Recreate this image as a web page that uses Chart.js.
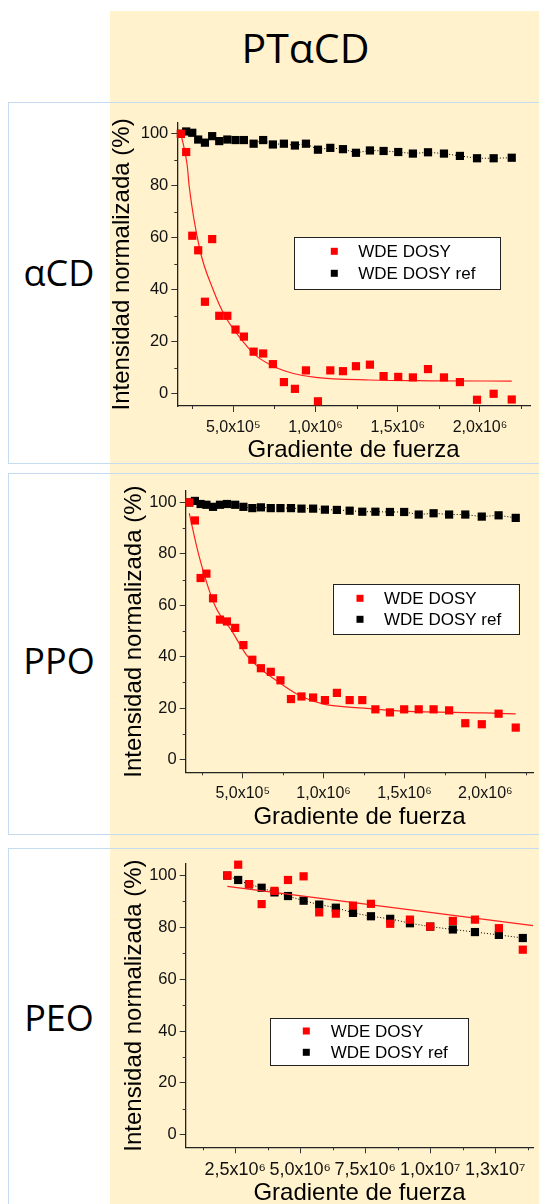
<!DOCTYPE html>
<html>
<head>
<meta charset="utf-8">
<script src="https://cdn.jsdelivr.net/npm/chart.js"></script>
<style>
  body { margin: 0; width: 539px; height: 1204px; position: relative; overflow: hidden; background: #fff; }
  .beige { position: absolute; left: 110px; top: 11px; width: 429px; height: 1193px; background: #fff2cc; }
  .panel { position: absolute; left: 8px; width: 540px; border: 1.5px solid #c5dbf0; box-sizing: border-box; }
  .big { position: absolute; font-family: "Open Sans", sans-serif; color: #000; line-height: 1; white-space: nowrap; text-align: center; }
  canvas { position: absolute; left: 110px; }
</style>
</head>
<body>
<div class="beige"></div>
<div class="panel" style="top:102px;height:362px"></div>
<div class="panel" style="top:473px;height:362px"></div>
<div class="panel" style="top:848px;height:370px"></div>

<div class="big" style="left:200px;width:211px;top:27px;font-size:41px">PTαCD</div>
<div class="big" style="left:0;width:118px;top:255px;font-size:36px">αCD</div>
<div class="big" style="left:0;width:118px;top:643px;font-size:36px">PPO</div>
<div class="big" style="left:0;width:118px;top:1000px;font-size:36px">PEO</div>

<canvas id="c1" width="429" height="355" style="top:110px"></canvas>
<canvas id="c2" width="429" height="354" style="top:478px"></canvas>
<canvas id="c3" width="429" height="357" style="top:851px"></canvas>

<script>
// αCD panel
const acdGrad = [182e3, 214e3, 251e3, 287e3, 328e3, 372e3, 415e3, 464e3, 514e3, 565e3,
  624e3, 682e3, 741e3, 808e3, 875e3, 942e3, 1015e3, 1090e3, 1167e3, 1246e3,
  1331e3, 1414e3, 1503e3, 1592e3, 1684e3, 1781e3, 1878e3, 1982e3, 2083e3, 2193e3];
const acdWde = [100, 93, 60.8, 55.2, 35.4, 59.5, 30, 30, 24.7, 22,
  16.2, 15.5, 11.4, 4.5, 1.9, 9, -2.9, 9, 8.7, 10.6,
  11.2, 6.8, 6.5, 6.3, 9.5, 6.3, 4.5, -2.3, 0, -2.2];
const acdRef = [100, 100.9, 100.4, 97.8, 96.6, 99.1, 97.2, 97.8, 97.6, 97.6,
  96.2, 97.6, 95.9, 96.2, 95.5, 96.2, 93.9, 94.6, 94.1, 92.7,
  93.6, 93.4, 93.0, 92.4, 92.9, 92.4, 91.5, 90.6, 90.6, 90.8];
const acdFitX = [182e3, 220e3, 232e3, 297e3, 378e3, 449e3, 561e3, 642e3, 763e3, 865e3, 1000e3, 1330e3, 1700e3, 2193e3];
const acdFitY = [100, 88, 80, 55.5, 40, 30, 20, 14.5, 10, 7.8, 6.3, 5.3, 5.0, 4.9];

// PPO panel
const ppoGrad = [169e3, 204e3, 239e3, 275e3, 316e3, 359e3, 402e3, 453e3, 504e3, 559e3,
  612e3, 673e3, 733e3, 798e3, 863e3, 935e3, 1008e3, 1082e3, 1161e3, 1239e3,
  1320e3, 1410e3, 1498e3, 1588e3, 1680e3, 1776e3, 1876e3, 1978e3, 2082e3, 2188e3];
const ppoWde = [100, 93, 70.6, 72.3, 62.7, 54.4, 53.7, 51.2, 44.5, 38.8,
  35.5, 34.1, 30.8, 23.5, 24.5, 24.1, 23.1, 25.9, 23.1, 23.1,
  19.5, 18.3, 19.5, 19.5, 19.5, 19.1, 14.1, 13.7, 17.8, 12.4];
const ppoRef = [100, 100.6, 99.4, 99.1, 98.3, 99.1, 99.4, 99.1, 98.3, 97.8,
  98.1, 97.8, 97.8, 97.8, 97.6, 97.6, 97.2, 97.1, 96.8, 96.4,
  96.4, 96.3, 96.3, 95.3, 95.8, 95.3, 95.3, 94.5, 95, 94];
const ppoFitX = [169e3, 226e3, 327e3, 429e3, 531e3, 724e3, 847e3, 1000e3, 1250e3, 1500e3, 2000e3, 2188e3];
const ppoFitY = [95.8, 80, 60, 50.3, 40, 30, 25, 21.5, 20, 18.8, 18.1, 17.7];

// PEO panel
const peoGrad = [2.195e6, 2.614e6, 3.03e6, 3.516e6, 4.01e6, 4.53e6, 5.13e6, 5.73e6, 6.37e6,
  7.03e6, 7.72e6, 8.46e6, 9.22e6, 10.0e6, 10.87e6, 11.72e6, 12.64e6, 13.56e6];
const peoWde = [100, 104.2, 96.7, 89, 94.1, 98.3, 99.7, 85.8, 85.3,
  88.4, 89.1, 81.4, 83, 80.3, 82.5, 83, 79.7, 71.4];
const peoRef = [100, 98.3, 96.6, 95.3, 93.5, 92.1, 90.3, 88.8, 87.6,
  85.6, 84.3, 83.3, 81.6, 80.3, 79.2, 78.2, 77.1, 75.9];
const peoFitX = [2.195e6, 13.96e6];
const peoFitY = [95.8, 80.7];

// axis ticks
const gradTickVals = [5e5, 1e6, 1.5e6, 2e6];
const gradTicks = ['5,0x10\u2075', '1,0x10\u2076', '1,5x10\u2076', '2,0x10\u2076'];
const gradMinor = [2.5e5, 7.5e5, 1.25e6, 1.75e6, 2.25e6];
const peoTickVals = [2.5e6, 5e6, 7.5e6, 1e7, 1.25e7];
const peoTicks = ['2,5x10\u2076', '5,0x10\u2076', '7,5x10\u2076', '1,0x10\u2077', '1,3x10\u2077'];
const peoMinor = [1.25e6, 3.75e6, 6.25e6, 8.75e6, 11.25e6, 13.75e6];
const yTickVals = [0, 20, 40, 60, 80, 100];
const yMinor = [10, 30, 50, 70, 90];

Chart.defaults.font.family = '"Liberation Sans", Arial, sans-serif';
Chart.defaults.color = '#111';

const pts = (xs, ys) => xs.map((x, i) => ({ x: x, y: ys[i] }));

const minorTicks = {
  id: 'minorTicks',
  afterDraw(chart, args, o) {
    const { ctx, scales: { x, y } } = chart;
    ctx.save();
    ctx.strokeStyle = '#333';
    ctx.lineWidth = 1;
    ctx.beginPath();
    o.x.forEach(v => {
      const px = Math.round(x.getPixelForValue(v)) + 0.5;
      ctx.moveTo(px, x.top);
      ctx.lineTo(px, x.top + 3);
    });
    o.y.forEach(v => {
      const py = Math.round(y.getPixelForValue(v)) + 0.5;
      ctx.moveTo(y.right, py);
      ctx.lineTo(y.right - 3, py);
    });
    ctx.stroke();
    ctx.restore();
  }
};

const boxLegend = {
  id: 'boxLegend',
  afterDraw(chart, args, o) {
    const ctx = chart.ctx;
    ctx.save();
    ctx.fillStyle = '#fff';
    ctx.fillRect(o.x, o.y, o.w, o.h);
    ctx.strokeStyle = '#222';
    ctx.lineWidth = 1;
    ctx.strokeRect(Math.round(o.x) + 0.5, Math.round(o.y) + 0.5, Math.round(o.w), Math.round(o.h));
    ctx.font = '17px "Liberation Sans"';
    ctx.textBaseline = 'middle';
    chart.data.datasets.filter(d => d.inLegend).forEach((d, i) => {
      const yy = o.rows[i];
      ctx.fillStyle = d.backgroundColor;
      ctx.fillRect(o.markX - 3.5, yy - 3.5, 7, 7);
      ctx.fillStyle = '#000';
      ctx.fillText(d.label, o.textX, yy + 1);
    });
    ctx.restore();
  }
};

function makeChart(id, p) {
  return new Chart(document.getElementById(id), {
    type: 'scatter',
    data: {
      datasets: [
        {
          label: 'WDE DOSY', inLegend: true,
          data: pts(p.grad, p.wde),
          pointStyle: 'rect', pointRadius: 5.8, pointHoverRadius: 5.8,
          backgroundColor: '#ff0000', borderColor: '#ff0000', pointBorderWidth: 0,
          showLine: false, clip: false
        },
        {
          label: 'fit',
          data: pts(p.fitX, p.fitY),
          showLine: true, pointRadius: 0, borderColor: '#ff2020', borderWidth: 1.2,
          cubicInterpolationMode: 'monotone', fill: false
        },
        {
          label: 'WDE DOSY ref', inLegend: true,
          data: pts(p.grad, p.ref),
          pointStyle: 'rect', pointRadius: 5.8, pointHoverRadius: 5.8,
          backgroundColor: '#000000', borderColor: '#000000', pointBorderWidth: 0,
          showLine: true, borderWidth: 1, borderDash: [1, 2], clip: false
        }
      ]
    },
    options: {
      responsive: false,
      animation: false,
      devicePixelRatio: 1,
      layout: { padding: { top: p.padTop, right: p.padRight, bottom: 0, left: 0 } },
      plugins: {
        legend: { display: false },
        tooltip: { enabled: false },
        minorTicks: { x: p.minor, y: yMinor },
        boxLegend: p.legend
      },
      scales: {
        x: {
          type: 'linear', min: p.xMin, max: p.xMax,
          afterBuildTicks: s => { s.ticks = p.tickVals.map(v => ({ value: v })); },
          afterFit: s => { s.height = p.xH; },
          border: { display: true, color: '#222', width: 1.3 },
          grid: { drawOnChartArea: false, drawTicks: true, tickLength: 6, tickColor: '#333', tickWidth: 1 },
          ticks: {
            padding: 6, color: '#111',
            maxRotation: 0, autoSkip: false,
            font: { size: p.xFont },
            callback: (v, i) => p.tickLabels[i]
          },
          title: { display: true, text: 'Gradiente de fuerza', color: '#000', padding: 0,
            font: { size: 24, lineHeight: 1.2 } }
        },
        y: {
          min: p.yMin, max: p.yMax,
          afterBuildTicks: s => { s.ticks = yTickVals.map(v => ({ value: v })); },
          afterFit: s => { s.width = p.yW; },
          border: { display: true, color: '#222', width: 1.3 },
          grid: { drawOnChartArea: false, drawTicks: true, tickLength: 6, tickColor: '#333', tickWidth: 1 },
          ticks: { padding: 3, color: '#111', font: { size: 16.5 }, callback: v => String(v) },
          title: { display: true, text: 'Intensidad normalizada (%)', color: '#000',
            padding: { top: p.yTitlePad, bottom: 0 }, font: { size: 24, lineHeight: 1 } }
        }
      }
    },
    plugins: [minorTicks, boxLegend]
  });
}

makeChart('c1', {
  grad: acdGrad, wde: acdWde, ref: acdRef, fitX: acdFitX, fitY: acdFitY,
  xMin: 1.6e5, xMax: 2.304e6, tickVals: gradTickVals, tickLabels: gradTicks, minor: gradMinor, xFont: 16,
  yMin: -4.7, yMax: 104.2, padTop: 12.3, padRight: 9, xH: 59, yW: 67.3, yTitlePad: 0,
  legend: { x: 184.3, y: 127.3, w: 206, h: 51.7, markX: 224.3, textX: 248.3, rows: [141.3, 163.3] }
});

makeChart('c2', {
  grad: ppoGrad, wde: ppoWde, ref: ppoRef, fitX: ppoFitX, fitY: ppoFitY,
  xMin: 1.47e5, xMax: 2.296e6, tickVals: gradTickVals, tickLabels: gradTicks, minor: gradMinor, xFont: 16,
  yMin: -5.0, yMax: 104.5, padTop: 10.3, padRight: 2.3, xH: 59.7, yW: 75.7, yTitlePad: 12.5,
  legend: { x: 222.7, y: 106.3, w: 185.6, h: 49.7, markX: 250, textX: 274, rows: [120.3, 141.3] }
});

makeChart('c3', {
  grad: peoGrad, wde: peoWde, ref: peoRef, fitX: peoFitX, fitY: peoFitY,
  xMin: 0.596e6, xMax: 13.96e6, tickVals: peoTickVals, tickLabels: peoTicks, minor: peoMinor, xFont: 18,
  yMin: -4.85, yMax: 104.5, padTop: 12.3, padRight: 2.3, xH: 60.7, yW: 75.7, yTitlePad: 12.5,
  legend: { x: 160, y: 167.3, w: 198.3, h: 46.7, markX: 196.3, textX: 220.7, rows: [180, 201.3] }
});
</script>
</body>
</html>
